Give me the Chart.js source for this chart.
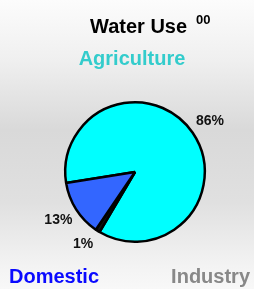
<!DOCTYPE html>
<html>
<head>
<meta charset="utf-8">
<script src="https://cdn.jsdelivr.net/npm/chart.js@4.4.0/dist/chart.umd.min.js"></script>
<style>
  html, body { margin: 0; padding: 0; }
  body {
    width: 254px; height: 289px; overflow: hidden;
    background: linear-gradient(to bottom, #fcfcfc 0%, #f0f0f0 20%, #d9d9d9 45%, #e0e0e0 70%, #f3f3f3 92%, #f8f8f8 100%);
  }
  #wrap { position: relative; width: 254px; height: 289px; }
</style>
</head>
<body>
<div id="wrap"><canvas id="pie"></canvas></div>
<script>
// data
const categories = ['Agriculture', 'Industry', 'Domestic'];
const shares = [86, 1, 13];
const pctLabels = ['86%', '1%', '13%'];
const titleText = 'Water Use';
const titleSup = '00';

// colours
const sliceColors = ['#00ffff', '#111111', '#3366ff'];
const nameColors = ['#33cccc', '#888888', '#0a0aff'];

const FONT = '"Liberation Sans", Arial, sans-serif';

// where each category name sits on the canvas
const namePos = {
    'Agriculture': { x: 132, y: 65, align: 'center' },
    'Industry': { x: 250, y: 283, align: 'right' },
    'Domestic': { x: 9, y: 283, align: 'left' }
};

const labelPlugin = {
    id: 'waterLabels',
    afterDatasetsDraw(chart) {
        const ctx = chart.ctx;
        const meta = chart.getDatasetMeta(0);
        ctx.save();

        // percentages outside the pie
        ctx.font = 'bold 14px ' + FONT;
        ctx.fillStyle = '#111';
        ctx.textAlign = 'center';
        ctx.textBaseline = 'middle';
        meta.data.forEach((arc, i) => {
            const p = arc.getProps(['x', 'y', 'startAngle', 'endAngle', 'outerRadius'], true);
            let mid = (p.startAngle + p.endAngle) / 2;
            let r = p.outerRadius + 21;
            if (shares[i] < 3) { mid += 0.06; r -= 2; } // tiny slice label nudged clear of the line
            ctx.fillText(pctLabels[i], p.x + Math.cos(mid) * r, p.y + Math.sin(mid) * r);
        });

        // title
        ctx.textBaseline = 'alphabetic';
        ctx.textAlign = 'left';
        ctx.fillStyle = '#000';
        ctx.font = 'bold 20px ' + FONT;
        ctx.fillText(titleText, 90, 33);
        ctx.font = 'bold 13px ' + FONT;
        ctx.fillText(titleSup, 196, 24);

        // category names
        ctx.font = 'bold 20px ' + FONT;
        categories.forEach((name, i) => {
            const pos = namePos[name];
            ctx.textAlign = pos.align;
            ctx.fillStyle = nameColors[i];
            ctx.fillText(name, pos.x, pos.y);
        });
        ctx.restore();
    }
};

const ctx = document.getElementById('pie').getContext('2d');
new Chart(ctx, {
    type: 'pie',
    data: {
        labels: categories,
        datasets: [{
            data: shares,
            backgroundColor: sliceColors,
            borderColor: '#000',
            borderWidth: 2.5
        }]
    },
    options: {
        responsive: true,
        maintainAspectRatio: false,
        animation: false,
        rotation: 261,
        layout: { padding: { left: 64, top: 101, right: 48, bottom: 46 } },
        plugins: {
            legend: { display: false },
            title: { display: false },
            tooltip: { enabled: false }
        }
    },
    plugins: [labelPlugin]
});
</script>
</body>
</html>
